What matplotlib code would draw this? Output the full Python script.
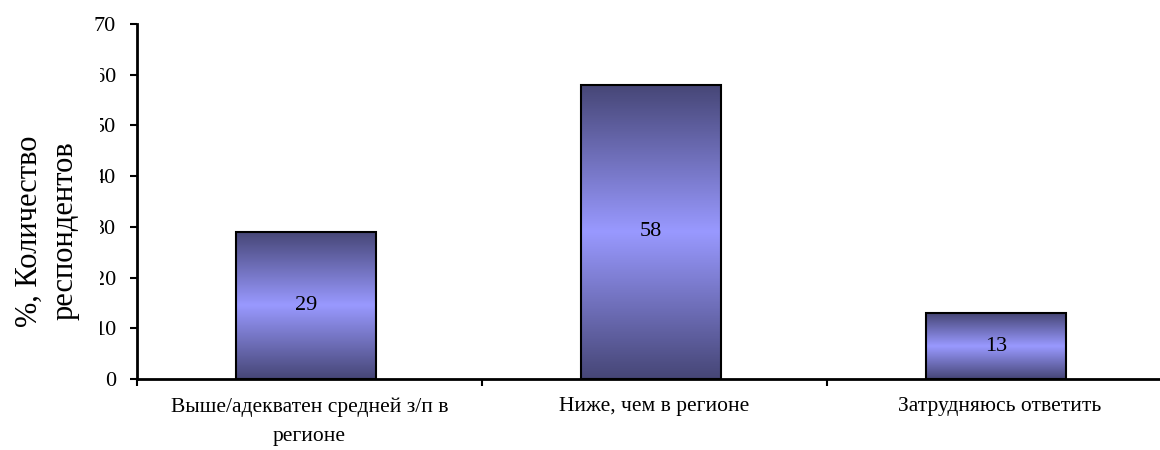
import matplotlib
matplotlib.use("Agg")
import matplotlib.pyplot as plt
import numpy as np
from matplotlib.colors import LinearSegmentedColormap
from matplotlib.patches import Rectangle

categories = ["Выше/адекватен средней з/п в\nрегионе", "Ниже, чем в регионе", "Затрудняюсь ответить"]
values = [29, 58, 13]
yticks = [0, 10, 20, 30, 40, 50, 60, 70]

plt.rcParams['font.family'] = ['Liberation Serif', 'DejaVu Serif']

W, H = 1160, 450
fig = plt.figure(figsize=(W/100, H/100), dpi=100)
left, right = 137, 1172
top, bottom = 24, 379
ax = fig.add_axes([left/W, 1-bottom/H, (right-left)/W, (bottom-top)/H])

x = np.arange(len(categories))
bars = ax.bar(x - 0.01, values, width=0.405, color='none', edgecolor='black', linewidth=1.5, zorder=3)

cmap = LinearSegmentedColormap.from_list('g', ['#464676', '#9999ff', '#464676'])
grad = np.linspace(0, 1, 256).reshape(-1, 1)
for b in bars:
    x0, y0, w, h = b.get_x(), b.get_y(), b.get_width(), b.get_height()
    im = ax.imshow(grad, cmap=cmap, aspect='auto', extent=[x0, x0+w, y0, y0+h],
                   origin='lower', zorder=2, interpolation='bilinear')
    im.set_clip_path(b)
    ax.text(x0+w/2, h/2, str(b.get_height()), ha='center', va='center', fontsize=16, zorder=4)

ax.set_xlim(-0.5, 2.5)
ax.set_ylim(0, 70)
ax.set_yticks(yticks)
ax.set_yticklabels([str(t) for t in yticks], fontsize=16)
ax.set_xticks(x)
ax.set_xticklabels(categories, fontsize=15.5, linespacing=1.75)
ax.tick_params(axis='x', which='major', length=0, pad=13)
ax.set_xticks([-0.5, 0.5, 1.5], minor=True)
ax.tick_params(axis='x', which='minor', length=5, width=1.5, direction='out')
ax.tick_params(axis='y', length=5, width=1.5, direction='out', pad=10)
for s in ['top', 'right']:
    ax.spines[s].set_visible(False)
for s in ['left', 'bottom']:
    ax.spines[s].set_linewidth(2)

# white area behind the y label, covering parts of tick labels as in reference
fig.patches.append(Rectangle((0, 1-350/H), 100/W, (350-57)/H, transform=fig.transFigure,
                             facecolor='white', edgecolor='none', zorder=5))
fig.text(47/W, 1-231/H, "%, Количество\nреспондентов", rotation=90, ha='center', va='center',
         fontsize=22, zorder=6, linespacing=1.3)

fig.savefig("out.png", dpi=100)
